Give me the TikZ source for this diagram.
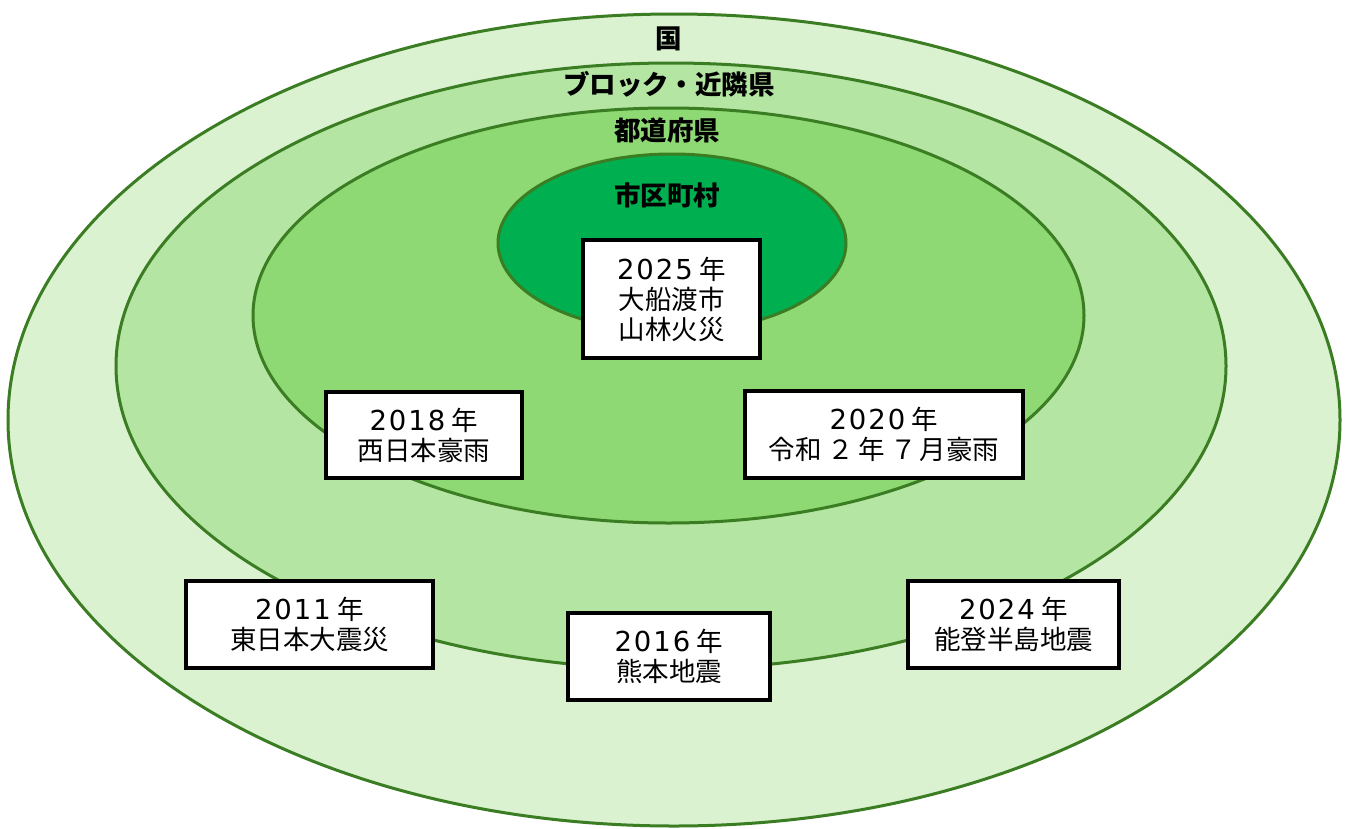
\documentclass[tikz,border=0pt]{standalone}
\usepackage{fontspec}
\setmainfont{Noto Sans CJK JP}
\newfontfamily\digitfont{DejaVu Sans}[LetterSpace=7]
\newcommand{\yr}[1]{{\digitfont\fontsize{27.5}{30}\selectfont #1}\hspace{0.25em}年}
\begin{document}
\begin{tikzpicture}[x=1pt,y=-1pt,
  ring/.style={draw=ringline,line width=3pt},
  lvl/.style={font=\fontsize{26.5}{28}\selectfont\bfseries, inner sep=0pt},
  evbox/.style={draw=black,line width=3.5pt,fill=white,align=center,inner sep=0pt,
    font=\fontsize{26.5}{30}\selectfont}]
\definecolor{ringline}{HTML}{3B7D23}
\definecolor{c1}{HTML}{DAF2D0}
\definecolor{c2}{HTML}{B4E5A2}
\definecolor{c3}{HTML}{8ED973}
\definecolor{c4}{HTML}{00B050}
\useasboundingbox (0,0) rectangle (1352,828);
\fill[white] (0,0) rectangle (1352,828);
\draw[ring,fill=c1] (674,420) ellipse [x radius=666,y radius=406];
\draw[ring,fill=c2] (671,366) ellipse [x radius=555,y radius=303];
\draw[ring,fill=c3] (668.5,315.5) ellipse [x radius=415.5,y radius=207.5];
\draw[ring,fill=c4] (672,243) ellipse [x radius=174,y radius=89];
\node[lvl] (koku) at (669,39) {国};
\node[lvl] (block) at (669,84) {ブロック・近隣県};
\node[lvl] (pref) at (667,130) {都道府県};
\node[lvl] (muni) at (667,195) {市区町村};
\node[evbox,minimum width=177pt,minimum height=118pt] (e2025) at (671.5,299) {\yr{2025}\\大船渡市\\山林火災};
\node[evbox,minimum width=196pt,minimum height=86pt] (e2018) at (424,435) {\yr{2018}\\西日本豪雨};
\node[evbox,minimum width=278pt,minimum height=87pt] (e2020) at (884,434.5) {\yr{2020}\\令和\hspace{0.2em}２\hspace{0.2em}年\hspace{0.2em}７\hspace{0.1em}月豪雨};
\node[evbox,minimum width=247pt,minimum height=87pt] (e2011) at (309.5,624.5) {\yr{2011}\\東日本大震災};
\node[evbox,minimum width=202pt,minimum height=87pt] (e2016) at (669,656.5) {\yr{2016}\\熊本地震};
\node[evbox,minimum width=211pt,minimum height=87pt] (e2024) at (1013.5,624.5) {\yr{2024}\\能登半島地震};
\end{tikzpicture}
\end{document}
